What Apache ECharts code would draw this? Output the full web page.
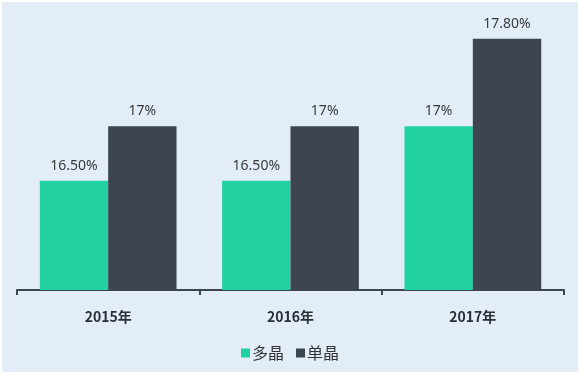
<!DOCTYPE html>
<html><head><meta charset="utf-8">
<script src="https://cdn.jsdelivr.net/npm/echarts@6/dist/echarts.min.js"></script>
<style>html,body{margin:0;padding:0;background:#fff}#c{width:580px;height:374px}</style>
</head><body><div id="c"></div>
<script>
const categories = ['2015年', '2016年', '2017年'];
const seriesNames = ['多晶', '单晶'];
const polyValues = [16.5, 16.5, 17];
const monoValues = [17, 17, 17.8];
const polyLabels = ['16.50%', '16.50%', '17%'];
const monoLabels = ['17%', '17%', '17.80%'];

const chart = echarts.init(document.getElementById('c'));
const font = '"Noto Sans", "Noto Sans CJK SC", sans-serif';
chart.setOption({
  backgroundColor: '#e3edf8',
  animation: false,
  textStyle: { fontFamily: font },
  graphic: [{ type: 'rect', shape: { x: 0, y: 0, width: 580, height: 374 }, style: { fill: 'none', stroke: '#ffffff', lineWidth: 4 }, silent: true }],
  grid: { left: 17, right: 16, top: 17, bottom: 84 },
  legend: {
    bottom: 8, left: 'center', itemWidth: 9, itemHeight: 9, itemGap: 12,
    icon: 'rect',
    textStyle: { fontSize: 16, color: '#333', fontFamily: '"Noto Sans CJK SC", sans-serif', padding: [0, 0, 0, -3] },
    data: seriesNames
  },
  xAxis: {
    type: 'category', data: categories,
    axisLine: { lineStyle: { color: '#3d4550', width: 2 } },
    axisTick: { show: true, length: 5, lineStyle: { color: '#3d4550', width: 2 } },
    axisLabel: { fontSize: 14, fontWeight: 'bold', color: '#2b2f36', margin: 20, fontFamily: '"Noto Sans CJK SC", sans-serif' }
  },
  yAxis: { type: 'value', min: 15.5, max: 18, show: false, splitLine: { show: false } },
  series: [
    { name: seriesNames[0], type: 'bar', data: polyValues, barGap: '0%', barCategoryGap: '25%',
      itemStyle: { color: '#21d1a0' },
      label: { show: true, position: 'top', distance: 8, fontSize: 14, color: '#3a3a3a',
        formatter: p => polyLabels[p.dataIndex] } },
    { name: seriesNames[1], type: 'bar', data: monoValues, barGap: '0%', barCategoryGap: '25%',
      itemStyle: { color: '#3d4550' },
      label: { show: true, position: 'top', distance: 8, fontSize: 14, color: '#3a3a3a',
        formatter: p => monoLabels[p.dataIndex] } }
  ]
});
</script></body></html>
